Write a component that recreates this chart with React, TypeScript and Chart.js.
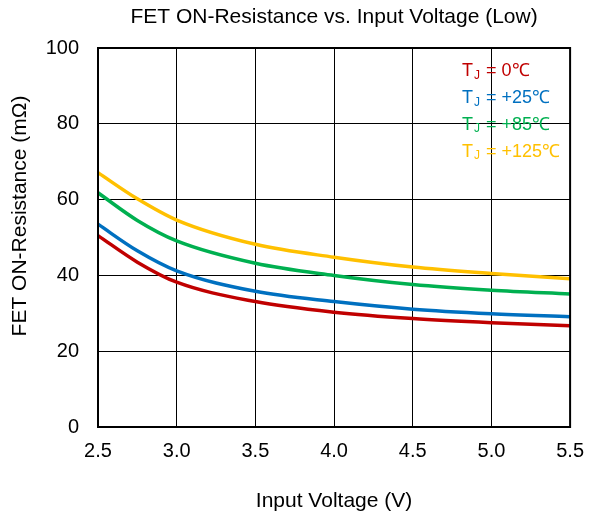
import React, { useEffect, useRef } from "react";
import { Chart, registerables } from "chart.js";

Chart.register(...registerables);

const voltage = [2.5, 2.75, 3.0, 3.5, 4.0, 4.5, 5.0, 5.5];
const res0C = [50.5, 43.5, 38.2, 33.1, 30.3, 28.6, 27.5, 26.7];
const res25C = [53.5, 46.5, 41.2, 35.8, 33.1, 31.1, 29.9, 29.1];
const res85C = [61.8, 54.5, 49.1, 43.2, 40.0, 37.6, 36.1, 35.1];
const res125C = [67.1, 60.2, 54.6, 48.2, 44.8, 42.2, 40.5, 39.1];
const seriesLabels = [" = 0℃", " = +25℃", " = +85℃", " = +125℃"];
const seriesColors = ["#C00000", "#0070C0", "#00B050", "#FFC000"];
const seriesData = [res0C, res25C, res85C, res125C];
const yAxisTitle = "FET ON-Resistance (mΩ)";

const FONT = "'Liberation Sans', Arial, sans-serif";

const framePlugin = {
  id: "frameAndLegend",
  afterDatasetsDraw(chart: any) {
    const { ctx, chartArea } = chart;
    ctx.save();
    ctx.strokeStyle = "#000";
    ctx.lineWidth = 2;
    ctx.strokeRect(chartArea.left, chartArea.top, chartArea.right - chartArea.left, chartArea.bottom - chartArea.top);
    // legend with subscript
    const x0 = chartArea.left + 364;
    let y = chartArea.top + 23.5;
    ctx.textBaseline = "middle";
    ctx.textAlign = "left";
    seriesLabels.forEach((lab, i) => {
      ctx.fillStyle = seriesColors[i];
      ctx.font = `18px ${FONT}`;
      ctx.fillText("T", x0, y);
      const tw = ctx.measureText("T").width;
      ctx.font = `12px ${FONT}`;
      ctx.fillText("J", x0 + tw + 1, y + 4);
      const jw = ctx.measureText("J").width;
      ctx.font = `18px ${FONT}`;
      ctx.fillText(lab, x0 + tw + jw + 2, y);
      y += 26.7;
    });
    // y axis title
    ctx.translate(20.5, chartArea.top + 168);
    ctx.rotate(-Math.PI / 2);
    ctx.fillStyle = "#000";
    ctx.font = `21px ${FONT}`;
    ctx.textAlign = "center";
    ctx.textBaseline = "middle";
    ctx.fillText(yAxisTitle, 0, 0);
    ctx.restore();
  },
};

export default function App() {
  const ref = useRef<HTMLCanvasElement>(null);
  useEffect(() => {
    if (!ref.current) return;
    const chart = new Chart(ref.current, {
      type: "line",
      data: {
        datasets: seriesData.map((d, i) => ({
          label: "TJ" + seriesLabels[i],
          data: voltage.map((v, k) => ({ x: v, y: d[k] })),
          borderColor: seriesColors[i],
          backgroundColor: seriesColors[i],
          borderWidth: 3.5,
          pointRadius: 0,
          cubicInterpolationMode: "monotone" as const,
          fill: false,
        })),
      },
      options: {
        animation: false,
        responsive: true,
        maintainAspectRatio: false,
        layout: { padding: { left: 0, right: 25, top: 0, bottom: 0 } },
        plugins: {
          legend: { display: false },
          tooltip: { enabled: false },
          title: {
            display: true,
            fullSize: false,
            text: "FET ON-Resistance vs. Input Voltage (Low)",
            color: "#000",
            font: { family: FONT, size: 21, weight: "normal" },
            padding: { top: 5, bottom: 17.8 },
          },
        },
        scales: {
          x: {
            type: "linear",
            min: 2.5,
            max: 5.5,
            ticks: {
              stepSize: 0.5,
              color: "#000",
              font: { family: FONT, size: 20 },
              padding: 12,
              maxRotation: 0,
              callback: (v: any) => Number(v).toFixed(1),
            },
            grid: { color: "#000", lineWidth: 1, drawTicks: false },
            border: { display: false },
            title: {
              display: true,
              text: "Input Voltage (V)",
              color: "#000",
              font: { family: FONT, size: 21 },
              padding: { top: 0, bottom: 4.5 },
            },
            afterFit: (s: any) => {
              s.height = 91;
            },
          },
          y: {
            min: 0,
            max: 100,
            ticks: {
              stepSize: 20,
              color: "#000",
              font: { family: FONT, size: 20 },
              padding: 19,
            },
            grid: { color: "#000", lineWidth: 1, drawTicks: false },
            border: { display: false },
            afterFit: (s: any) => {
              s.width = 98;
            },
          },
        },
      },
      plugins: [framePlugin],
    });
    return () => chart.destroy();
  }, []);
  return (
    <div style={{ position: "absolute", left: 0, top: 0, width: 596, height: 518, background: "#fff" }}>
      <canvas ref={ref} />
    </div>
  );
}
